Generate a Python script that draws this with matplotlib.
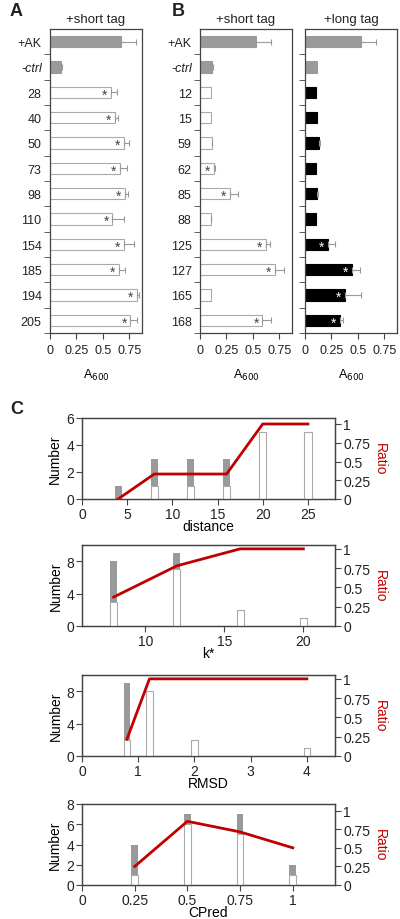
import numpy as np
import matplotlib
matplotlib.use("Agg")
import matplotlib.pyplot as plt

plt.rcParams['font.family'] = ['Liberation Sans', 'DejaVu Sans']
plt.rcParams['text.color'] = '#222222'
plt.rcParams['axes.edgecolor'] = '#444444'
plt.rcParams['xtick.color'] = '#444444'
plt.rcParams['ytick.color'] = '#444444'
plt.rcParams['xtick.labelcolor'] = '#222222'
plt.rcParams['ytick.labelcolor'] = '#222222'

# Panel A: +short tag
labels_A = ['+AK', '-ctrl', '28', '40', '50', '73', '98', '110', '154', '185', '194', '205']
vals_A = [0.67, 0.10, 0.58, 0.61, 0.70, 0.66, 0.71, 0.59, 0.70, 0.65, 0.82, 0.76]
err_A = [0.14, 0.01, 0.05, 0.03, 0.05, 0.07, 0.03, 0.11, 0.09, 0.06, 0.02, 0.06]
star_A = [0, 0, 1, 1, 1, 1, 1, 1, 1, 1, 1, 1]

# Panel B: short vs long tag
labels_B = ['+AK', '-ctrl', '12', '15', '59', '62', '85', '88', '125', '127', '165', '168']
short_B = [0.53, 0.11, 0.10, 0.10, 0.11, 0.13, 0.28, 0.10, 0.62, 0.71, 0.10, 0.59]
short_B_err = [0.14, 0.01, 0.0, 0.0, 0.005, 0.015, 0.08, 0.005, 0.04, 0.08, 0.0, 0.08]
star_short_B = [0, 0, 0, 0, 0, 1, 1, 0, 1, 1, 0, 1]
long_B = [0.525, 0.11, 0.10, 0.11, 0.13, 0.10, 0.11, 0.105, 0.215, 0.44, 0.38, 0.33]
long_B_err = [0.145, 0.0, 0.0, 0.0, 0.01, 0.0, 0.01, 0.0, 0.07, 0.08, 0.145, 0.025]
star_long_B = [0, 0, 0, 0, 0, 0, 0, 0, 1, 1, 1, 1]

# Panel C: counts (total / white) and ratio
dist_x = [4, 8, 12, 16, 20, 25]
dist_total = [1, 3, 3, 3, 5, 5]
dist_white = [0, 1, 1, 1, 5, 5]
dist_ratio = [0, 0.333, 0.333, 0.333, 1, 1]

k_x = [8, 12, 16, 20]
k_total = [8, 9, 2, 1]
k_white = [3, 7, 2, 1]
k_ratio = [0.375, 0.78, 1, 1]

rmsd_x = [0.8, 1.2, 2, 4]
rmsd_total = [9, 8, 2, 1]
rmsd_white = [2, 8, 2, 1]
rmsd_ratio = [0.22, 1, 1, 1]

cpred_x = [0.25, 0.5, 0.75, 1]
cpred_total = [4, 7, 7, 2]
cpred_white = [1, 6, 5, 1]
cpred_ratio = [0.25, 0.857, 0.714, 0.5]

W, H = 400, 920
fig = plt.figure(figsize=(4, 9.2), dpi=100)


def rect(l, r, t, b):
    return [l / W, 1 - b / H, (r - l) / W, (b - t) / H]


GRAY = '#9a9a9a'
EDGE = '#aaaaaa'


def bar_panel(ax, vals, errs, stars, colors, labels, title, star_color):
    y = np.arange(len(vals))
    for i in range(len(vals)):
        fc, ec = colors[i]
        ax.barh(y[i], vals[i], height=0.45, color=fc, edgecolor=ec, linewidth=0.8, zorder=2)
        if errs[i] > 0:
            ax.errorbar(vals[i], y[i], xerr=[[0], [errs[i]]], fmt='none',
                        ecolor='#999999', elinewidth=0.8, capsize=2, capthick=0.8, zorder=3)
        if stars[i]:
            ax.text(vals[i] - 0.06, y[i] + 0.08, '*', ha='center', va='center',
                    fontsize=10, color=star_color, zorder=4)
    ax.set_ylim(len(vals) - 0.5, -0.5)
    ax.set_xlim(0, 0.87)
    ax.set_xticks([0, 0.25, 0.5, 0.75])
    ax.set_xticklabels(['0', '0.25', '0.5', '0.75'], fontsize=9)
    ax.set_yticks(y)
    if labels is not None:
        ax.set_yticklabels(labels, fontsize=9)
        ax.get_yticklabels()[1].set_style('italic')
    else:
        ax.set_yticklabels([])
    ax.set_yticks(np.arange(0.5, len(vals), 1), minor=True)
    ax.tick_params(axis='y', which='major', length=0, pad=6)
    ax.tick_params(axis='y', which='minor', length=4, direction='out')
    ax.tick_params(axis='x', length=4, direction='out', pad=4)
    ax.set_xlabel('A$_{600}$', fontsize=9, labelpad=8)
    ax.set_title(title, fontsize=9.5, pad=5)
    for s in ax.spines.values():
        s.set_linewidth(0.9)


axA = fig.add_axes(rect(50, 142, 30, 334))
colA = [(GRAY, GRAY), (GRAY, GRAY)] + [('white', EDGE)] * 10
bar_panel(axA, vals_A, err_A, star_A, colA, labels_A, '+short tag', '#444444')

axB1 = fig.add_axes(rect(200, 292, 30, 334))
bar_panel(axB1, short_B, short_B_err, star_short_B, colA, labels_B, '+short tag', '#444444')

axB2 = fig.add_axes(rect(305, 397, 30, 334))
colB2 = [(GRAY, GRAY), (GRAY, GRAY)] + [('black', 'black')] * 10
bar_panel(axB2, long_B, long_B_err, star_long_B, colB2, None, '+long tag', 'white')

fig.text(10 / W, 1 - 12 / H, 'A', fontsize=13, fontweight='bold', va='center')
fig.text(172 / W, 1 - 12 / H, 'B', fontsize=13, fontweight='bold', va='center')
fig.text(10 / W, 1 - 410 / H, 'C', fontsize=13, fontweight='bold', va='center')

RED = '#c00000'


def count_panel(box, xs, total, white, ratio, width, xlim, xticks, xticklabels,
                ylim, yticks, rtop, xlabel):
    ax = fig.add_axes(rect(82, 335, box[0], box[1]))
    ax.bar(xs, total, width=width, color=GRAY, edgecolor='none', zorder=2)
    ax.bar(xs, white, width=width, color='white', edgecolor=EDGE, linewidth=0.8, zorder=3)
    ax.set_xlim(*xlim)
    ax.set_xticks(xticks)
    ax.set_xticklabels(xticklabels, fontsize=10)
    ax.set_ylim(*ylim)
    ax.set_yticks(yticks)
    ax.set_yticklabels([str(v) for v in yticks], fontsize=10)
    ax.set_ylabel('Number', fontsize=10, labelpad=3)
    ax.set_xlabel(xlabel, fontsize=10, labelpad=-1)
    ax.tick_params(length=4, direction='out', pad=1.5)
    ax2 = ax.twinx()
    ax2.plot(xs, ratio, color=RED, lw=2, zorder=5)
    ax2.set_ylim(0, rtop)
    ax2.set_yticks([0, 0.25, 0.5, 0.75, 1])
    ax2.set_yticklabels(['0', '0.25', '0.5', '0.75', '1'], fontsize=10)
    ax2.tick_params(length=4, direction='out', pad=2)
    ax2.set_ylabel('Ratio', color=RED, fontsize=10, rotation=270, labelpad=12)
    for a in (ax, ax2):
        for s in a.spines.values():
            s.set_linewidth(0.9)
    return ax


count_panel((419, 500), dist_x, dist_total, dist_white, dist_ratio, 0.8,
            (0, 28), [0, 5, 10, 15, 20, 25], ['0', '5', '10', '15', '20', '25'],
            (0, 6), [0, 2, 4, 6], 1.08, 'distance')
count_panel((546, 627), k_x, k_total, k_white, k_ratio, 0.45,
            (6, 22), [10, 15, 20], ['10', '15', '20'],
            (0, 10), [0, 4, 8], 1.05, 'k*')
count_panel((676, 757), rmsd_x, rmsd_total, rmsd_white, rmsd_ratio, 0.12,
            (0, 4.5), [0, 1, 2, 3, 4], ['0', '1', '2', '3', '4'],
            (0, 10), [0, 4, 8], 1.05, 'RMSD')
count_panel((805, 886), cpred_x, cpred_total, cpred_white, cpred_ratio, 0.032,
            (0, 1.2), [0, 0.25, 0.5, 0.75, 1], ['0', '0.25', '0.5', '0.75', '1'],
            (0, 8), [0, 2, 4, 6, 8], 1.09, 'CPred')

fig.savefig('out.png', dpi=100)
